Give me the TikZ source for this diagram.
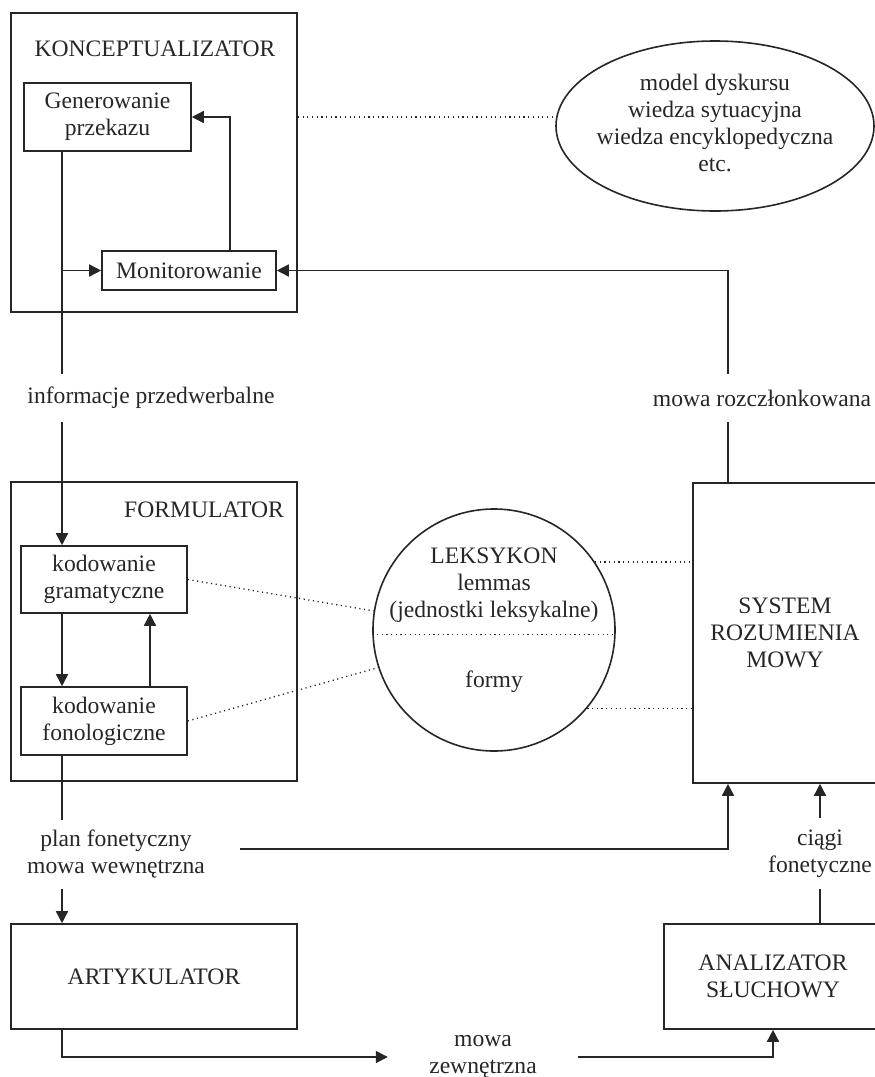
\documentclass[tikz,border=0pt]{standalone}
\usepackage{fontspec}
\setmainfont{Liberation Serif}
\usepackage{tikz}
\usetikzlibrary{shapes.geometric,arrows.meta,positioning}
\definecolor{ink}{HTML}{262626}

\begin{document}
\begin{tikzpicture}[x=1pt, y=-1pt, every node/.style={font=\fontsize{23.6}{27}\selectfont, text=ink}, box/.style={draw=ink,line width=1.6pt,inner sep=0pt,align=center}, tag/.style={inner sep=0pt,align=center}, arrow/.style={draw=ink,line width=1.6pt,-{Triangle[length=12pt,width=12pt]}}, wire/.style={draw=ink,line width=1.6pt}, link/.style={draw=ink,line width=1.3pt,dash pattern=on 1.2pt off 3.5pt}]
    \useasboundingbox (0,0) rectangle (875,1077);
    % production side
    \node[box,minimum width=286pt,minimum height=299pt] (konc) at (154,162.5) {};
    \node[tag] (konctitle) at (155,49) {KONCEPTUALIZATOR};
    \node[box,minimum width=167pt,minimum height=68pt] (gen) at (107.5,117) {Generowanie\\przekazu};
    \node[box,minimum width=174pt,minimum height=39pt] (mon) at (189,270.5) {Monitorowanie};
    \node[tag,minimum height=48pt] (info) at (151,398) {informacje przedwerbalne};
    \node[box,minimum width=286pt,minimum height=299pt] (form) at (154,631.5) {};
    \node[tag,anchor=east] (formtitle) at (284,510) {FORMULATOR};
    \node[box,minimum width=166pt,minimum height=67pt] (gram) at (104,579.5) {kodowanie\\gramatyczne};
    \node[box,minimum width=166pt,minimum height=68pt] (fono) at (104,721) {kodowanie\\fonologiczne};
    \node[tag,minimum width=248pt,minimum height=69pt] (plan) at (116,854.5) {plan fonetyczny\\mowa wewnętrzna};
    \node[box,minimum width=286pt,minimum height=105pt] (arty) at (154,976.5) {ARTYKULATOR};
    \node[tag,minimum width=190pt] (ext) at (483,1057) {mowa\\zewnętrzna};
    % knowledge and lexicon
    \node[box,ellipse,minimum width=318pt,minimum height=170pt] (know) at (715,126) {};
    \node[tag] (knowtext) at (715,123) {model dyskursu\\wiedza sytuacyjna\\wiedza encyklopedyczna\\etc.};
    \node[box,circle,minimum size=242pt] (lex) at (494,630) {};
    \node[tag] (lemma) at (494,585) {LEKSYKON\\lemmas\\(jednostki leksykalne)};
    \node[tag] (forms) at (494,682) {formy};
    % comprehension side
    \node[box,minimum width=184pt,minimum height=300pt] (sys) at (785,633) {SYSTEM\\ROZUMIENIA\\MOWY};
    \node[tag,minimum height=48pt] (rozcz) at (762,398) {mowa rozczłonkowana};
    \node[tag,minimum height=71pt] (ciagi) at (820,853.5) {ciągi\\fonetyczne};
    \node[box,minimum width=218pt,minimum height=105pt] (ana) at (773,976.5) {ANALIZATOR\\SŁUCHOWY};
    \coordinate (trunk) at (62,0);
    \coordinate (loop) at (230,0);
    \coordinate (back) at (150,0);
    \coordinate (sysx) at (728,0);
    % connectors
    \draw[wire] (gen.south -| trunk) -- (info.north -| trunk);
    \draw[arrow] (mon.west -| trunk) -- (mon.west);
    \draw[arrow] (mon.north -| loop) |- (gen.east);
    \draw[arrow] (info.south -| trunk) -- (gram.north -| trunk);
    \draw[arrow] (gram.south -| trunk) -- (fono.north -| trunk);
    \draw[arrow] (fono.north -| back) -- (gram.south -| back);
    \draw[wire] (fono.south -| trunk) -- (plan.north -| trunk);
    \draw[arrow] (plan.south -| trunk) -- (arty.north -| trunk);
    \draw[arrow] (arty.south -| trunk) |- (ext.west);
    \draw[arrow] (ext.east) -| (ana.south);
    \draw[wire] (ana.north -| ciagi) -- (ciagi.south);
    \draw[arrow] (ciagi.north) -- (sys.south -| ciagi);
    \draw[arrow] ([yshift=5.5pt]plan.east) -| (sys.south -| sysx);
    \draw[wire] (sys.north -| sysx) -- (rozcz.south -| sysx);
    \draw[arrow] (rozcz.north -| sysx) |- (mon.east);
    % dotted links
    \draw[link] (konc.east |- gen.east) -- (know.west |- gen.east);
    \draw[link] (gram.east) -- (lex.171);
    \draw[link] (fono.east) -- (lex.198);
    \draw[link] (lex.182) -- (lex.-2);
    \draw[link] (lex.34) -- (lex.34 -| sys.west);
    \draw[link] (lex.-40) -- (lex.-40 -| sys.west);
\end{tikzpicture}
\end{document}
